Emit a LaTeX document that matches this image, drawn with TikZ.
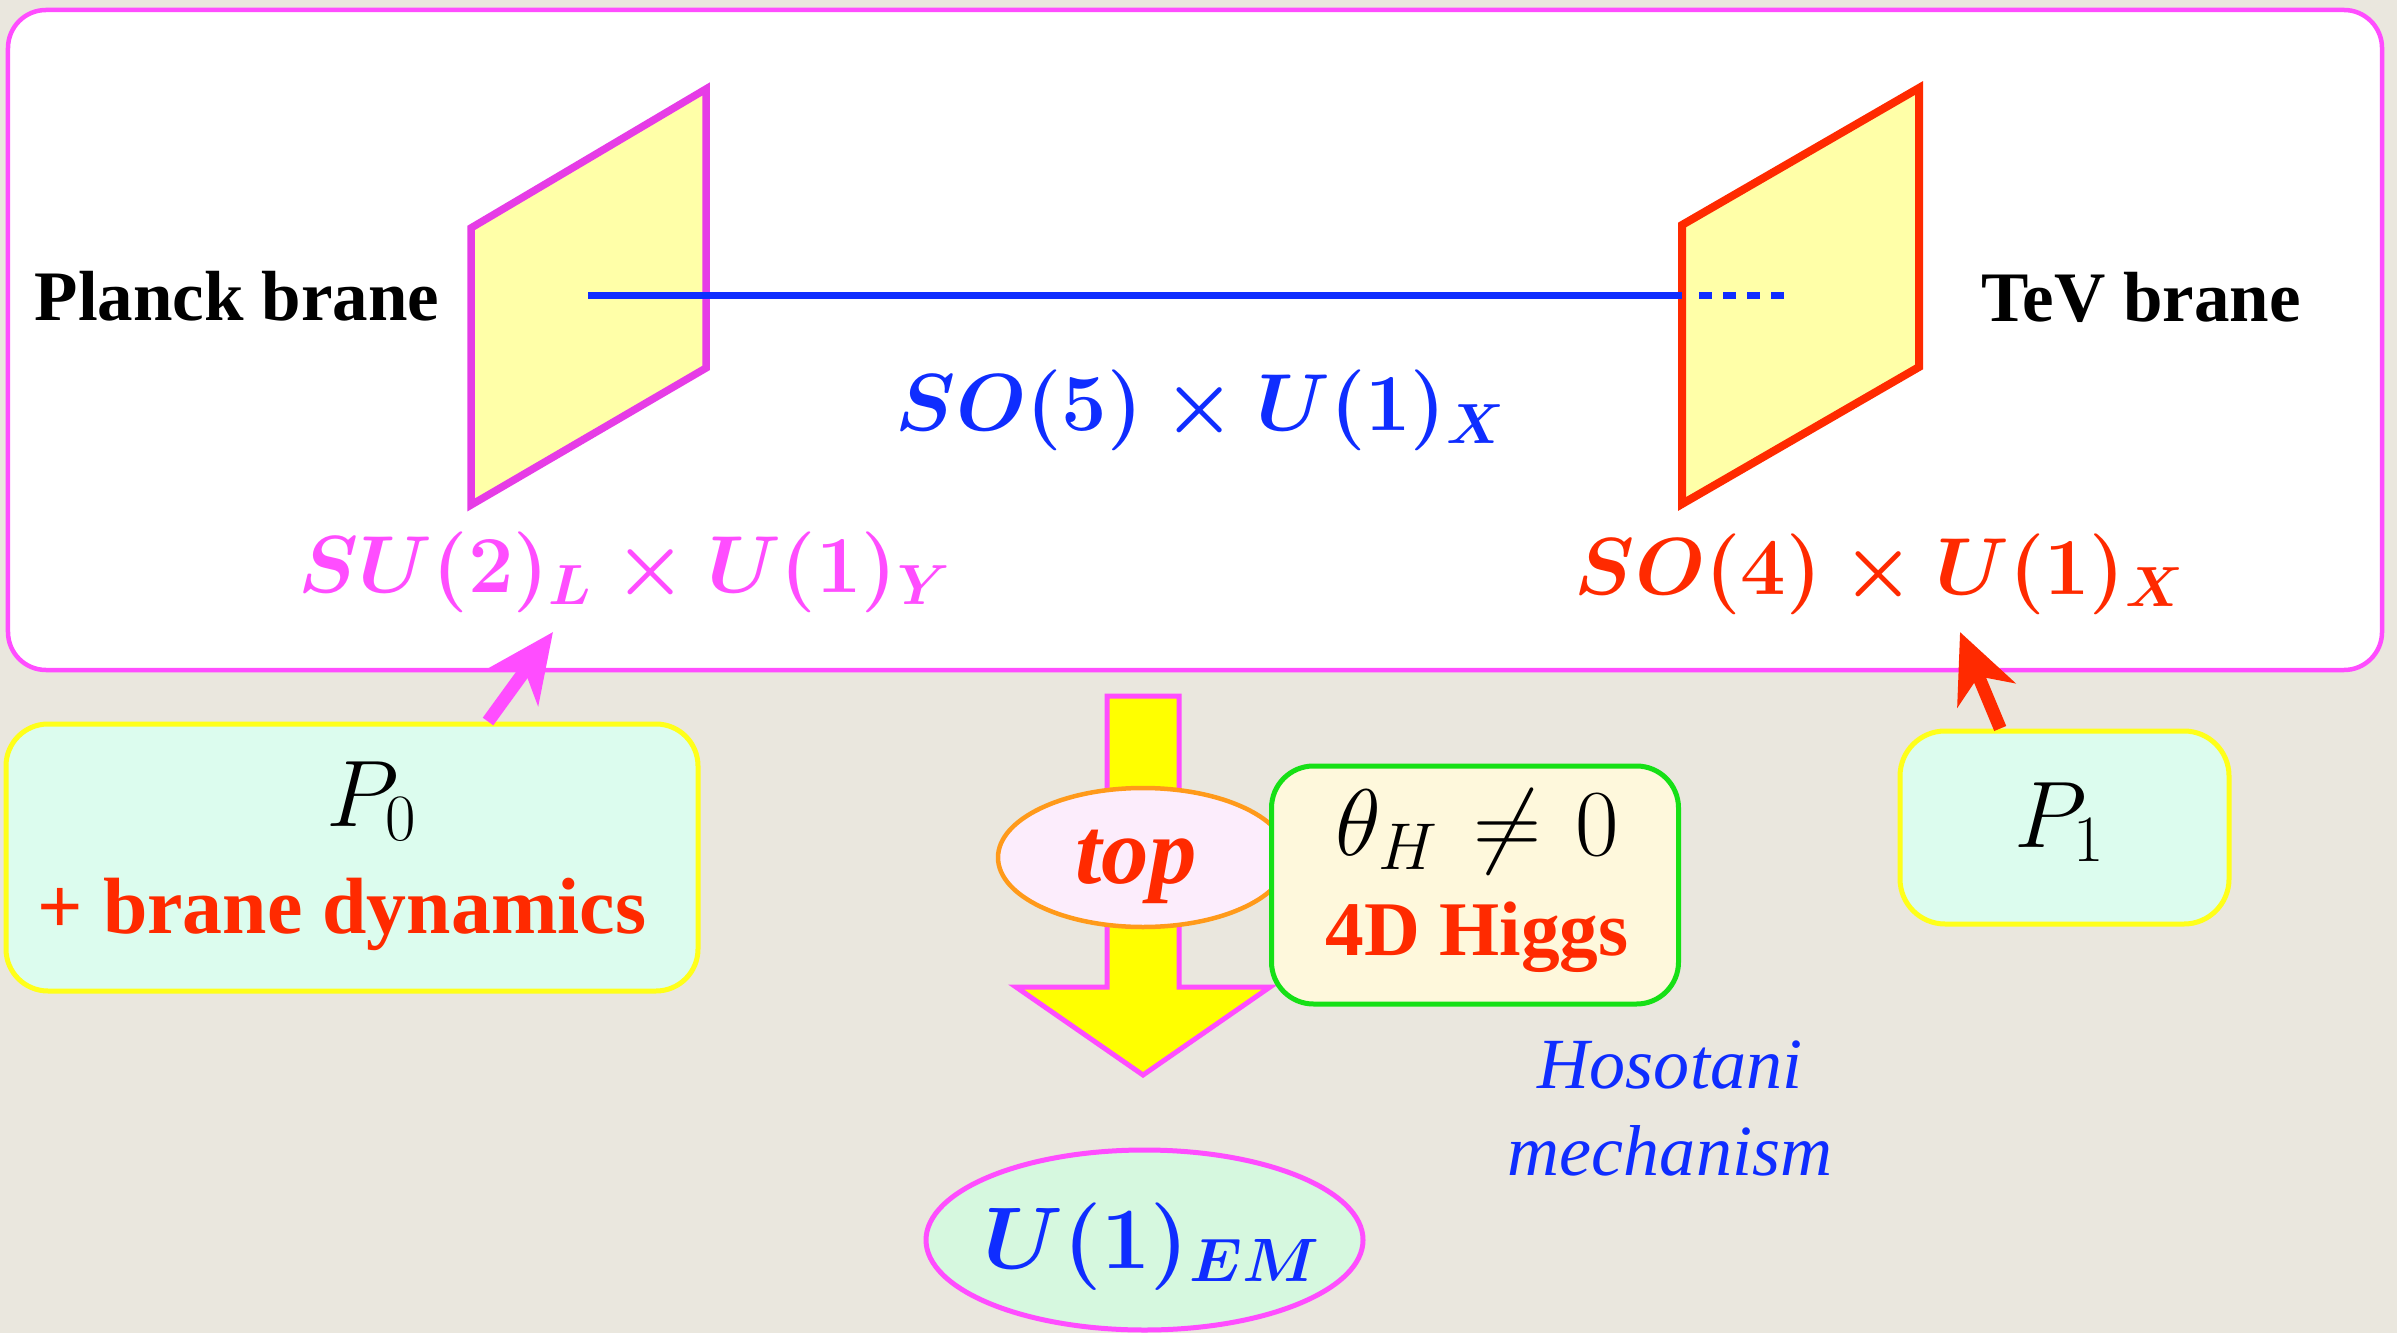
\documentclass[tikz,border=0pt]{standalone}
\usepackage{fix-cm}
\usepackage{fontspec}
\setmainfont{Liberation Serif}
\usetikzlibrary{arrows.meta,shapes.geometric}
\definecolor{bgbeige}{HTML}{EAE7DE}
\definecolor{gbpink}{HTML}{FF4DFF}
\definecolor{gbmagenta}{HTML}{E63CE6}
\definecolor{gbred}{HTML}{FF2A00}
\definecolor{gbblue}{HTML}{0F2DFF}
\definecolor{braneyellow}{HTML}{FFFFA8}
\definecolor{arrowyellow}{HTML}{FFFF00}
\definecolor{boxyellow}{HTML}{FFFF1A}
\definecolor{mintfill}{HTML}{DCFCEE}
\definecolor{higgsgreen}{HTML}{16E016}
\definecolor{higgscream}{HTML}{FEF8DC}
\definecolor{toporange}{HTML}{FF9A1A}
\definecolor{toppink}{HTML}{FCEDFC}
\definecolor{emfill}{HTML}{D6F8DF}

\begin{document}
\begin{tikzpicture}[
    branelabel/.style={inner sep=0pt, anchor=base west, font=\fontsize{20.2}{24}\selectfont\bfseries},
    grouplabel/.style={inner sep=0pt, anchor=base, font=\fontsize{23}{28}\selectfont\boldmath},
    mathlabel/.style={inner sep=0pt, anchor=base, font=\fontsize{26.9}{32}\selectfont},
    redlabel/.style={inner sep=0pt, anchor=base, text=gbred, font=\fontsize{22}{26}\selectfont\bfseries},
    roundbox/.style={draw, rectangle, rounded corners=0.42cm, line width=0.05cm},
    orbarrow/.style={line width=0.13cm, -{Stealth[length=0.68cm, width=0.62cm, inset=0.2cm]}}
  ]
      \useasboundingbox[fill=bgbeige] (0,0) rectangle (23.97,13.33);

      % Bulk
      \node[draw=gbpink, fill=white, line width=0.045cm, rounded corners=0.38cm,
            minimum width=23.74cm, minimum height=6.60cm] (bulk) at (11.95,9.93) {};

      % Branes
      \draw[gbmagenta, fill=braneyellow, line width=0.075cm]
        (4.71,8.28) -- (4.71,11.05) -- (7.06,12.44) -- (7.06,9.65) -- cycle;
      \draw[gbred, fill=braneyellow, line width=0.08cm]
        (16.82,8.29) -- (16.82,11.08) -- (19.19,12.45) -- (19.19,9.66) -- cycle;

      % Fifth dimension
      \draw[gbblue, line width=0.075cm] (5.88,10.375) -- (16.82,10.375);
      \draw[gbblue, line width=0.075cm, dash pattern=on 0.13cm off 0.11cm] (16.99,10.375) -- (17.85,10.375);

      \node[branelabel] (planck) at (0.34,10.12) {Planck brane};
      \node[branelabel] (tev) at (19.81,10.11) {TeV brane};

      % Symmetries
      \node[grouplabel, text=gbblue] (so5) at (12.01,9.02) {$SO(5)\times U(1)_X$};
      \node[grouplabel, text=gbpink] (su2) at (6.25,7.41) {$SU(2)_L\times U(1)_Y$};
      \node[grouplabel, text=gbred] (so4) at (18.80,7.39) {$SO(4)\times U(1)_X$};

      % Boundary conditions
      \node[roundbox, draw=boxyellow, fill=mintfill, minimum width=6.92cm, minimum height=2.67cm] (p0box) at (3.52,4.755) {};
      \node[mathlabel] (p0) at (3.72,5.07) {$P_0$};
      \node[redlabel, font=\fontsize{22.7}{27}\selectfont\bfseries] (dyn) at (3.42,4.00) {+ brane dynamics};

      \node[roundbox, draw=boxyellow, fill=mintfill, rounded corners=0.45cm, minimum width=3.29cm, minimum height=1.93cm] (p1box) at (20.645,5.055) {};
      \node[mathlabel] (p1) at (20.60,4.86) {$P_1$};

      \coordinate (su2tip) at (5.53,7.01);
      \coordinate (so4tip) at (19.60,7.01);
      \draw[orbarrow, gbpink] (p0box.45) -- (su2tip);
      \draw[orbarrow, gbred] (p1box.123) -- (so4tip);

      % Breaking
      \draw[gbpink, fill=arrowyellow, line width=0.05cm]
        (11.07,6.37) -- (11.79,6.37) -- (11.79,3.46) -- (12.70,3.46) -- (11.43,2.58)
        -- (10.16,3.46) -- (11.07,3.46) -- cycle;

      \node[ellipse, draw=toporange, fill=toppink, line width=0.045cm,
            minimum width=2.90cm, minimum height=1.39cm, inner sep=0pt] (topell) at (11.43,4.755) {};
      \node[inner sep=0pt, anchor=base, text=gbred, font=\fontsize{27}{32}\selectfont\bfseries\itshape] (top) at (11.36,4.50) {top};

      \node[roundbox, draw=higgsgreen, fill=higgscream, minimum width=4.07cm, minimum height=2.38cm] (higgsbox) at (14.75,4.48) {};
      \node[mathlabel] (theta) at (14.77,4.78) {$\theta_H\mkern1.5mu\neq\mkern1.5mu 0$};
      \node[redlabel] (higgs) at (14.77,3.78) {4D Higgs};

      \node[inner sep=0pt, anchor=base, align=center, text=gbblue, font=\fontsize{20.5}{24.5}\selectfont\itshape] (hosotani) at (16.70,1.58) {Hosotani\\mechanism};

      % Unbroken
      \node[ellipse, draw=gbpink, fill=emfill, line width=0.05cm,
            minimum width=4.37cm, minimum height=1.80cm, inner sep=0pt] (emell) at (11.445,0.93) {};
      \node[inner sep=0pt, anchor=base, text=gbblue, font=\fontsize{24.9}{30}\selectfont\boldmath] (em) at (11.52,0.645) {$U(1)_{EM}$};
\end{tikzpicture}
\end{document}
